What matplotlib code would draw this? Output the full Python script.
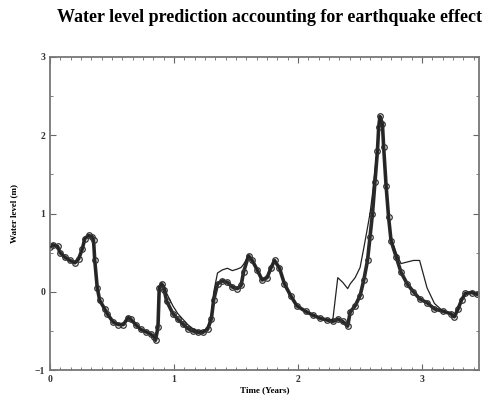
import numpy as np
import matplotlib.pyplot as plt
from matplotlib.ticker import MultipleLocator

# time axis (years) shared by both series
t = [0.00, 0.02, 0.06, 0.08, 0.12, 0.16, 0.20, 0.23, 0.26, 0.28,
     0.31, 0.34, 0.35, 0.36, 0.38, 0.40, 0.44, 0.46, 0.51, 0.55,
     0.59, 0.63, 0.65, 0.69, 0.73, 0.77, 0.81, 0.84, 0.85, 0.87,
     0.88, 0.90, 0.92, 0.94, 0.99, 1.03, 1.07, 1.11, 1.15, 1.19,
     1.23, 1.27, 1.30, 1.32, 1.35, 1.39, 1.43, 1.47, 1.51, 1.54,
     1.56, 1.60, 1.63, 1.67, 1.71, 1.75, 1.78, 1.81, 1.85, 1.89,
     1.94, 1.99, 2.06, 2.12, 2.18, 2.23, 2.28, 2.32, 2.36, 2.40,
     2.42, 2.46, 2.50, 2.53, 2.56, 2.58, 2.60, 2.62, 2.64, 2.65,
     2.66, 2.68, 2.69, 2.71, 2.73, 2.75, 2.79, 2.83, 2.88, 2.93,
     2.98, 3.04, 3.10, 3.17, 3.23, 3.26, 3.29, 3.32, 3.35, 3.40,
     3.44]

# observed water level (m)
observed = [0.57, 0.60, 0.58, 0.50, 0.44, 0.40, 0.37, 0.42, 0.55, 0.68,
            0.72, 0.70, 0.66, 0.40, 0.05, -0.11, -0.22, -0.28, -0.39, -0.42,
            -0.42, -0.33, -0.35, -0.42, -0.48, -0.51, -0.54, -0.58, -0.62, -0.45,
            0.05, 0.10, 0.02, -0.12, -0.28, -0.35, -0.41, -0.47, -0.50, -0.52,
            -0.52, -0.48, -0.35, -0.10, 0.10, 0.14, 0.12, 0.06, 0.04, 0.08,
            0.25, 0.46, 0.40, 0.28, 0.15, 0.18, 0.30, 0.40, 0.30, 0.10,
            -0.05, -0.18, -0.25, -0.30, -0.34, -0.36, -0.38, -0.35, -0.38, -0.44,
            -0.26, -0.18, -0.05, 0.15, 0.40, 0.70, 1.00, 1.40, 1.80, 2.10,
            2.24, 2.15, 1.85, 1.35, 0.95, 0.65, 0.45, 0.25, 0.10, 0.00,
            -0.09, -0.14, -0.22, -0.25, -0.28, -0.32, -0.22, -0.10, -0.02, -0.01,
            -0.03]

# model prediction with earthquake term (m)
predicted = [0.57, 0.60, 0.58, 0.50, 0.44, 0.40, 0.37, 0.42, 0.55, 0.68,
             0.72, 0.70, 0.66, 0.40, 0.05, -0.11, -0.22, -0.28, -0.39, -0.42,
             -0.42, -0.33, -0.35, -0.42, -0.48, -0.51, -0.54, -0.58, -0.60, -0.40,
             0.06, 0.10, 0.08, -0.02, -0.18, -0.28, -0.35, -0.42, -0.47, -0.50,
             -0.51, -0.46, -0.30, 0.00, 0.24, 0.28, 0.30, 0.27, 0.29, 0.31,
             0.35, 0.46, 0.40, 0.28, 0.15, 0.18, 0.30, 0.40, 0.30, 0.10,
             -0.05, -0.18, -0.25, -0.30, -0.34, -0.36, -0.36, 0.18, 0.12, 0.04,
             0.10, 0.18, 0.31, 0.56, 0.82, 1.00, 1.25, 1.55, 1.85, 2.12,
             2.22, 2.10, 1.80, 1.35, 0.95, 0.68, 0.50, 0.36, 0.38, 0.40,
             0.40, 0.05, -0.15, -0.25, -0.28, -0.32, -0.22, -0.10, -0.02, -0.01,
             -0.03]

fig = plt.figure(figsize=(4.82, 4.0), dpi=100)
ax = fig.add_axes([0.104, 0.075, 0.89, 0.7825])

ax.plot(t, observed, color='#2a2a2a', lw=2.6, marker='o', ms=4,
        mfc='none', mec='#333333', mew=0.9, zorder=2)
ax.plot(t, predicted, color='#222222', lw=0.9, zorder=3)

ax.set_xlim(0, 3.46)
ax.set_ylim(-1, 3)
ax.xaxis.set_major_locator(MultipleLocator(1))
ax.xaxis.set_minor_locator(MultipleLocator(1 / 12))
ax.yaxis.set_major_locator(MultipleLocator(1))
ax.yaxis.set_minor_locator(MultipleLocator(0.5))
ax.tick_params(which='both', direction='in', top=True, right=True,
               color='#666666', labelsize=7, labelcolor='#333333')
ax.tick_params(which='major', length=4)
ax.tick_params(which='minor', length=2.5)
for lab in ax.get_xticklabels() + ax.get_yticklabels():
    lab.set_family('Liberation Serif')
    lab.set_fontweight('bold')
for s in ax.spines.values():
    s.set_color('#777777')
    s.set_linewidth(1.3)

ax.set_xlabel('Time (Years)', family='Liberation Serif', fontweight='bold',
              fontsize=6.5, labelpad=2)
ax.set_ylabel('Water level (m)', family='Liberation Serif', fontweight='bold',
              fontsize=6.5, labelpad=12)

fig.text(0.56, 0.955, 'Water level prediction accounting for earthquake effect',
         ha='center', va='center', family='Liberation Serif',
         fontweight='bold', fontsize=13)

fig.savefig('out.png', dpi=100)
